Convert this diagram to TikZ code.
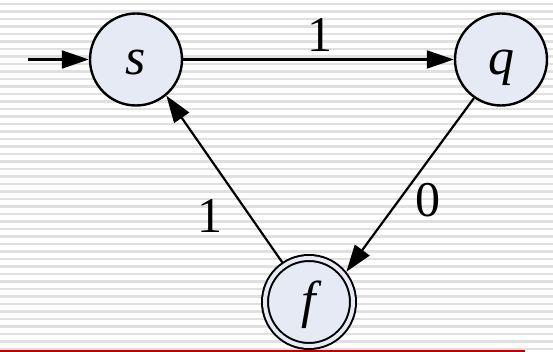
\documentclass[tikz,border=0pt]{standalone}
\usepackage{fontspec}
\setmainfont{Liberation Serif}
\usetikzlibrary{arrows.meta}

\definecolor{statefill}{HTML}{E6EAF4}
\definecolor{stripegray}{HTML}{E0E0E0}
\definecolor{rulered}{HTML}{C00000}

\begin{document}
\begin{tikzpicture}[
    x=1pt, y=-1pt,
    state/.style={draw, circle, line width=2.4pt, fill=statefill, minimum size=92pt, inner sep=0pt, font=\fontsize{52}{60}\selectfont\itshape, text height=35pt, text depth=4pt},
    accept/.style={state, double=statefill, double distance=4pt, line width=2pt, minimum size=88pt, outer sep=4pt},
    trans/.style={-{Triangle[length=27pt,width=18pt]}, line width=2.2pt},
    lbl/.style={font=\fontsize{50}{60}\selectfont, inner sep=0pt},
    stripe/.style={stripegray, line width=2.5pt}
]
\useasboundingbox (0,0) rectangle (553,352);

% Striped background
\foreach \y in {4,11.5,...,352}
    \draw[stripe] (0,\y) -- (553,\y);
\draw[rulered, line width=2pt] (0,351) -- (525,351);

% States
\node[state] (s) at (136, 59.5) {s};
\node[state] (q) at (501, 59.5) {q};
\node[accept] (f) at (309, 302) {f};

% Start arrow
\coordinate (start) at (28, 59.5);
\draw[trans] (start) -- (s);

% Transitions
\draw[trans] (s) -- (q) node[lbl, pos=0.5, xshift=1.5pt, yshift=24pt] {1};
\draw[trans] (q.235) -- (f.39) node[lbl, pos=0.6, xshift=30.6pt, yshift=2.3pt] {0};
\draw[trans] (f.124) -- (s.310) node[lbl, pos=0.3, xshift=-37.4pt, yshift=-3.8pt] {1};

\end{tikzpicture}
\end{document}
